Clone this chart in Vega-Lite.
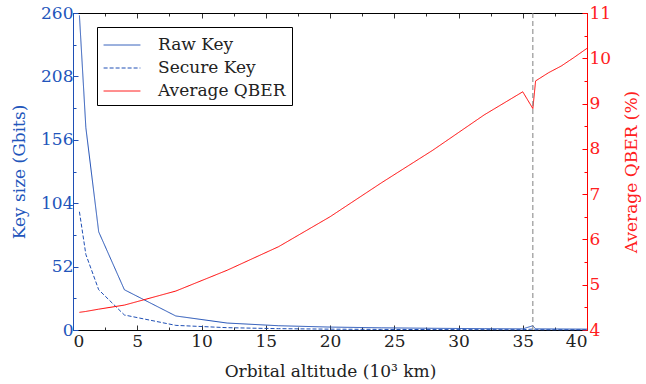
{
  "$schema": "https://vega.github.io/schema/vega-lite/v6.json",
  "width": 514,
  "height": 317,
  "autosize": {"type": "none"},
  "padding": {"left": 73, "top": 13, "right": 59, "bottom": 54},
  "background": "white",
  "config": {
    "view": {"stroke": null},
    "font": "'DejaVu Serif', serif",
    "style": {"guide-label": {"font": "'DejaVu Serif', serif"}, "guide-title": {"font": "'DejaVu Serif', serif"}},
    "axis": {"labelFont": "'DejaVu Serif', serif", "titleFont": "'DejaVu Serif', serif", "labelFontSize": 17, "titleFontSize": 17, "titleFontWeight": "normal", "grid": false, "domainWidth": 1, "tickWidth": 1, "ticks": true},
    "legend": {"labelFont": "'DejaVu Serif', serif", "labelFontSize": 17}
  },
  "datasets": {
    "keys": [
      {"alt": 0.5, "series": "Raw Key", "value": 258},
      {"alt": 1, "series": "Raw Key", "value": 166},
      {"alt": 2, "series": "Raw Key", "value": 80.5},
      {"alt": 4, "series": "Raw Key", "value": 33},
      {"alt": 8, "series": "Raw Key", "value": 11.5},
      {"alt": 12, "series": "Raw Key", "value": 5.7},
      {"alt": 16, "series": "Raw Key", "value": 3.5},
      {"alt": 20, "series": "Raw Key", "value": 2.4},
      {"alt": 24, "series": "Raw Key", "value": 1.8},
      {"alt": 28, "series": "Raw Key", "value": 1.4},
      {"alt": 32, "series": "Raw Key", "value": 1.1},
      {"alt": 35, "series": "Raw Key", "value": 0.9},
      {"alt": 35.786, "series": "Raw Key", "value": 3.5},
      {"alt": 36, "series": "Raw Key", "value": 0.9},
      {"alt": 40, "series": "Raw Key", "value": 0.7},
      {"alt": 0.5, "series": "Secure Key", "value": 97},
      {"alt": 1, "series": "Secure Key", "value": 62},
      {"alt": 2, "series": "Secure Key", "value": 33},
      {"alt": 4, "series": "Secure Key", "value": 12.3},
      {"alt": 8, "series": "Secure Key", "value": 3.8},
      {"alt": 12, "series": "Secure Key", "value": 1.9},
      {"alt": 16, "series": "Secure Key", "value": 1.1},
      {"alt": 20, "series": "Secure Key", "value": 0.7},
      {"alt": 24, "series": "Secure Key", "value": 0.5},
      {"alt": 28, "series": "Secure Key", "value": 0.35},
      {"alt": 32, "series": "Secure Key", "value": 0.27},
      {"alt": 35, "series": "Secure Key", "value": 0.22},
      {"alt": 35.786, "series": "Secure Key", "value": 0.8},
      {"alt": 36, "series": "Secure Key", "value": 0.2},
      {"alt": 40, "series": "Secure Key", "value": 0.15}
    ],
    "qber": [
      {"alt": 0.5, "series": "Average QBER", "value": 4.39},
      {"alt": 1, "series": "Average QBER", "value": 4.41},
      {"alt": 2, "series": "Average QBER", "value": 4.46},
      {"alt": 4, "series": "Average QBER", "value": 4.55},
      {"alt": 8, "series": "Average QBER", "value": 4.86},
      {"alt": 12, "series": "Average QBER", "value": 5.32},
      {"alt": 16, "series": "Average QBER", "value": 5.84},
      {"alt": 20, "series": "Average QBER", "value": 6.5},
      {"alt": 24, "series": "Average QBER", "value": 7.25},
      {"alt": 28, "series": "Average QBER", "value": 7.97},
      {"alt": 32, "series": "Average QBER", "value": 8.75},
      {"alt": 35, "series": "Average QBER", "value": 9.26},
      {"alt": 35.786, "series": "Average QBER", "value": 8.89},
      {"alt": 36, "series": "Average QBER", "value": 9.5},
      {"alt": 37, "series": "Average QBER", "value": 9.68},
      {"alt": 38, "series": "Average QBER", "value": 9.83},
      {"alt": 39, "series": "Average QBER", "value": 10.02},
      {"alt": 40, "series": "Average QBER", "value": 10.22}
    ],
    "geo": [{"alt": 35.786}]
  },
  "layer": [
    {
      "data": {"name": "keys"},
      "mark": {"type": "line", "strokeWidth": 1},
      "encoding": {
        "x": {"field": "alt", "type": "quantitative", "scale": {"domain": [0, 40], "nice": false},
          "axis": {"orient": "bottom", "title": "Orbital altitude (10³ km)", "values": [0,2.5,5,7.5,10,12.5,15,17.5,20,22.5,25,27.5,30,32.5,35,37.5,40],
            "labelExpr": "datum.value % 5 === 0 ? format(datum.value, 'd') : ''",
            "ticks": true,
            "tickSize": {"condition": {"test": "datum.value % 5 === 0", "value": -5}, "value": -3},
            "titleFont": "'DejaVu Serif', serif", "labelFont": "'DejaVu Serif', serif",
            "domainColor": "black", "tickColor": "#333333", "labelColor": "#222222", "titleColor": "#222222", "labelPadding": 8, "titlePadding": 14}},
        "y": {"field": "value", "type": "quantitative", "scale": {"domain": [0, 260], "nice": false},
          "axis": {"orient": "left", "title": "Key size (Gbits)", "values": [0,26,52,78,104,130,156,182,208,234,260],
            "labelExpr": "datum.value % 52 === 0 ? format(datum.value, 'd') : ''",
            "ticks": true,
            "tickSize": {"condition": {"test": "datum.value % 52 === 0", "value": -5}, "value": -3},
            "titleFont": "'DejaVu Serif', serif", "labelFont": "'DejaVu Serif', serif",
            "domainColor": "#1f4fb5", "tickColor": "#1f4fb5", "labelColor": "#2255bb", "titleColor": "#2255bb", "labelPadding": 5, "titlePadding": 12}},
        "color": {"field": "series", "type": "nominal",
          "scale": {"domain": ["Raw Key", "Secure Key", "Average QBER"], "range": ["#1f4fb5", "#1f4fb5", "#ff0000"]},
          "legend": {"title": null, "orient": "none", "legendX": 24, "legendY": 14, "strokeColor": "black", "fillColor": "white", "padding": 6, "symbolType": "M-1.6,0H1.6", "symbolSize": 529, "symbolOffset": 7, "symbolStrokeWidth": 1, "rowPadding": 3, "labelOffset": 24, "labelLimit": 300, "labelFont": "'DejaVu Serif', serif", "labelFontSize": 17, "labelColor": "#222222"}},
        "strokeDash": {"field": "series", "type": "nominal",
          "scale": {"domain": ["Raw Key", "Secure Key", "Average QBER"], "range": [[1, 0], [4, 2], [1, 0]]},
          "legend": {"title": null, "orient": "none", "legendX": 24, "legendY": 14, "strokeColor": "black", "fillColor": "white", "padding": 6, "symbolType": "M-1.6,0H1.6", "symbolSize": 529, "symbolOffset": 7, "symbolStrokeWidth": 1, "rowPadding": 3, "labelOffset": 24, "labelLimit": 300, "labelFont": "'DejaVu Serif', serif", "labelFontSize": 17, "labelColor": "#222222"}}
      }
    },
    {
      "data": {"name": "qber"},
      "mark": {"type": "line", "strokeWidth": 1},
      "encoding": {
        "x": {"field": "alt", "type": "quantitative", "scale": {"domain": [0, 40], "nice": false},
          "axis": {"orient": "top", "title": null, "values": [0,2.5,5,7.5,10,12.5,15,17.5,20,22.5,25,27.5,30,32.5,35,37.5,40],
            "labels": false,
            "ticks": true,
            "tickSize": {"condition": {"test": "datum.value % 5 === 0", "value": -5}, "value": -3},
            "domainColor": "black", "tickColor": "#333333"}},
        "y": {"field": "value", "type": "quantitative", "scale": {"domain": [4, 11], "nice": false},
          "axis": {"orient": "right", "title": "Average QBER (%)", "titleAngle": 270, "values": [4,4.5,5,5.5,6,6.5,7,7.5,8,8.5,9,9.5,10,10.5,11],
            "labelExpr": "datum.value % 1 === 0 ? format(datum.value, 'd') : ''",
            "ticks": true,
            "tickSize": {"condition": {"test": "datum.value % 1 === 0", "value": -5}, "value": -3},
            "titleFont": "'DejaVu Serif', serif", "labelFont": "'DejaVu Serif', serif",
            "domainColor": "#ff0000", "tickColor": "#ff0000", "labelColor": "#ff2020", "titleColor": "#ff2020", "labelPadding": 7, "titlePadding": 30}},
        "color": {"field": "series", "type": "nominal"},
        "strokeDash": {"field": "series", "type": "nominal"}
      }
    },
    {
      "data": {"name": "geo"},
      "mark": {"type": "rule", "color": "#808080", "strokeDash": [5, 3], "strokeWidth": 1},
      "encoding": {
        "x": {"field": "alt", "type": "quantitative", "axis": null}
      }
    }
  ],
  "resolve": {"scale": {"y": "independent"}, "axis": {"x": "independent", "y": "independent"}}
}
